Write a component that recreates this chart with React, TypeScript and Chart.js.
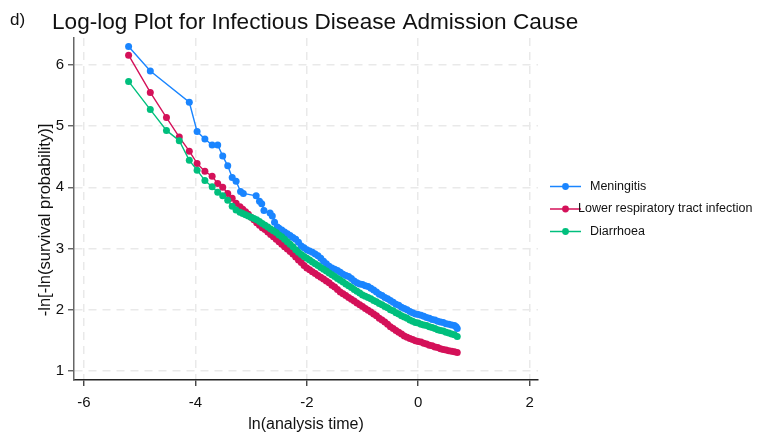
import React, { useEffect, useRef } from "react";
import { Chart, registerables } from "chart.js";

Chart.register(...registerables);

// ln(analysis time) and -ln[-ln(S(t))] for each admission cause
const meningitisX = [
  -5.2, -4.81, -4.11, -3.97, -3.83, -3.7, -3.6, -3.51, -3.42, -3.34, -3.27, -3.19, -3.14, -2.91, -2.85, -2.81, -2.77,
  -2.66, -2.62, -2.58, -2.53,
  -2.5, -2.45, -2.4, -2.35, -2.3, -2.25, -2.2, -2.15, -2.1, -2.05,
  -2, -1.95, -1.9, -1.85, -1.8, -1.75, -1.7, -1.65, -1.6, -1.55,
  -1.5, -1.45, -1.4, -1.35, -1.3, -1.25, -1.2, -1.15, -1.1, -1.05,
  -1, -0.95, -0.9, -0.85, -0.8, -0.75, -0.7, -0.65, -0.6, -0.55,
  -0.5, -0.45, -0.4, -0.35, -0.3, -0.25, -0.2, -0.15, -0.1, -0.05,
  0, 0.05, 0.1, 0.15, 0.2, 0.25, 0.3, 0.35, 0.4, 0.45,
  0.5, 0.55, 0.6, 0.65, 0.68, 0.7,
];
const meningitisY = [
  6.3, 5.9, 5.39, 4.91, 4.79, 4.69, 4.69, 4.51, 4.35, 4.16, 4.1, 3.93, 3.9, 3.86, 3.77, 3.73, 3.62,
  3.58, 3.53, 3.43, 3.35,
  3.33, 3.3, 3.27, 3.24, 3.21, 3.18, 3.15, 3.1, 3.04, 3.01,
  2.98, 2.96, 2.94, 2.91, 2.88, 2.84, 2.79, 2.75, 2.71, 2.68,
  2.66, 2.64, 2.61, 2.58, 2.56, 2.54, 2.51, 2.47, 2.44, 2.42,
  2.41, 2.39, 2.38, 2.35, 2.32, 2.29, 2.25, 2.23, 2.2, 2.18,
  2.15, 2.12, 2.09, 2.07, 2.04, 2.02, 2.0, 1.97, 1.95, 1.93,
  1.92, 1.91, 1.89, 1.87, 1.86, 1.84, 1.83, 1.81, 1.8, 1.79,
  1.77, 1.76, 1.75, 1.74, 1.72, 1.69,
];

const otherX = [
  -5.2, -4.81, -4.52, -4.29, -4.11, -3.97, -3.83, -3.7, -3.6, -3.51, -3.42, -3.34, -3.27,
  -3.2, -3.15, -3.1, -3.05, -3, -2.95, -2.9, -2.85, -2.8, -2.75,
  -2.7, -2.65, -2.6, -2.55, -2.5, -2.45, -2.4, -2.35, -2.3, -2.25,
  -2.2, -2.15, -2.1, -2.05, -2, -1.95, -1.9, -1.85, -1.8, -1.75,
  -1.7, -1.65, -1.6, -1.55, -1.5, -1.45, -1.4, -1.35, -1.3, -1.25,
  -1.2, -1.15, -1.1, -1.05, -1, -0.95, -0.9, -0.85, -0.8, -0.75,
  -0.7, -0.65, -0.6, -0.55, -0.5, -0.45, -0.4, -0.35, -0.3, -0.25,
  -0.2, -0.15, -0.1, -0.05, 0, 0.05, 0.1, 0.15, 0.2, 0.25,
  0.3, 0.35, 0.4, 0.45, 0.5, 0.55, 0.6, 0.65, 0.7,
];
const respiratoryY = [
  6.16, 5.55, 5.14, 4.82, 4.59, 4.39, 4.26, 4.18, 4.06, 4.0, 3.9, 3.82, 3.74,
  3.68, 3.64, 3.6, 3.56, 3.51, 3.47, 3.42, 3.38, 3.34, 3.31,
  3.27, 3.23, 3.19, 3.15, 3.11, 3.07, 3.03, 2.99, 2.95, 2.91,
  2.86, 2.81, 2.77, 2.72, 2.68, 2.65, 2.62, 2.59, 2.56, 2.53,
  2.5, 2.47, 2.44, 2.4, 2.37, 2.33, 2.29, 2.26, 2.23, 2.2,
  2.17, 2.14, 2.11, 2.08, 2.05, 2.02, 1.99, 1.96, 1.93, 1.9,
  1.86, 1.83, 1.8, 1.76, 1.72, 1.69, 1.66, 1.63, 1.6, 1.57,
  1.55, 1.53, 1.51, 1.49, 1.48, 1.47, 1.45, 1.44, 1.42, 1.41,
  1.39, 1.38, 1.36, 1.35, 1.34, 1.33, 1.32, 1.31, 1.3,
];
const diarrhoeaY = [
  5.73, 5.27, 4.93, 4.76, 4.44, 4.28, 4.11, 4.01, 3.92, 3.86, 3.79, 3.69, 3.63,
  3.59, 3.57, 3.55, 3.53, 3.51, 3.49, 3.47, 3.44, 3.41, 3.38,
  3.35, 3.32, 3.29, 3.26, 3.22, 3.19, 3.15, 3.11, 3.07, 3.03,
  2.98, 2.94, 2.9, 2.87, 2.84, 2.81, 2.78, 2.75, 2.72, 2.69,
  2.66, 2.63, 2.6, 2.57, 2.54, 2.51, 2.48, 2.45, 2.42, 2.39,
  2.36, 2.33, 2.3, 2.27, 2.24, 2.22, 2.2, 2.18, 2.15, 2.13,
  2.1, 2.08, 2.05, 2.03, 2.0, 1.98, 1.95, 1.93, 1.9, 1.88,
  1.86, 1.83, 1.81, 1.79, 1.78, 1.76, 1.75, 1.74, 1.72, 1.71,
  1.69, 1.67, 1.66, 1.65, 1.63, 1.62, 1.6, 1.59, 1.56,
];

const seriesNames = ["Meningitis", "Lower respiratory tract infection", "Diarrhoea"];
const seriesColors = ["#1A85FF", "#D41159", "#00BF7D"];

const xTicks = [-6, -4, -2, 0, 2];
const yTicks = [1, 2, 3, 4, 5, 6];

const FONT = "'Liberation Sans', Arial, Helvetica, sans-serif";

const pairs = (xs: number[], ys: number[]) => xs.map((x, i) => ({ x, y: ys[i] }));

const textPlugin = {
  id: "annotationText",
  afterDraw(chart: any) {
    const ctx = chart.ctx as CanvasRenderingContext2D;
    ctx.save();
    ctx.fillStyle = "#111";
    ctx.textAlign = "left";
    ctx.textBaseline = "alphabetic";
    ctx.font = `17px ${FONT}`;
    ctx.fillText("d)", 10, 25);
    ctx.font = `22.6px ${FONT}`;
    ctx.fillText("Log-log Plot for Infectious Disease Admission Cause", 52, 28.5);

    // axis titles
    ctx.font = `16px ${FONT}`;
    ctx.textAlign = "center";
    ctx.textBaseline = "middle";
    ctx.fillText("ln(analysis time)", 306, 425);
    ctx.save();
    ctx.font = `16.5px ${FONT}`;
    ctx.translate(45, 220);
    ctx.rotate(-Math.PI / 2);
    ctx.fillText("-ln[-ln(survival probability)]", 0, 0);
    ctx.restore();

    // legend
    const rows = [186.5, 209, 231.5];
    const textX = [590, 578, 590];
    ctx.font = `12.5px ${FONT}`;
    ctx.textAlign = "left";
    seriesNames.forEach((name, i) => {
      const y = rows[i];
      ctx.strokeStyle = seriesColors[i];
      ctx.lineWidth = 1.5;
      ctx.beginPath();
      ctx.moveTo(550, y);
      ctx.lineTo(581, y);
      ctx.stroke();
      ctx.fillStyle = seriesColors[i];
      ctx.beginPath();
      ctx.arc(565.5, y, 3.4, 0, Math.PI * 2);
      ctx.fill();
      ctx.fillStyle = "#111";
      ctx.fillText(name, textX[i], y);
    });
    ctx.restore();
  },
};

export default function App() {
  const canvasRef = useRef<HTMLCanvasElement | null>(null);

  useEffect(() => {
    const canvas = canvasRef.current;
    if (!canvas) return;
    const makeSet = (label: string, xs: number[], ys: number[], color: string, order: number) => ({
      label,
      data: pairs(xs, ys),
      borderColor: color,
      backgroundColor: color,
      borderWidth: 1.4,
      pointRadius: 3.5,
      pointBorderWidth: 0,
      pointBackgroundColor: color,
      pointHoverRadius: 3.5,
      showLine: true,
      tension: 0,
      order,
    });
    const chart = new Chart(canvas, {
      type: "scatter",
      data: {
        datasets: [
          makeSet(seriesNames[0], meningitisX, meningitisY, seriesColors[0], 3),
          makeSet(seriesNames[1], otherX, respiratoryY, seriesColors[1], 2),
          makeSet(seriesNames[2], otherX, diarrhoeaY, seriesColors[2], 1),
        ],
      },
      options: {
        responsive: false,
        animation: false,
        devicePixelRatio: 1,
        layout: { padding: { left: 0, top: 38, right: 232, bottom: 0 } },
        plugins: {
          legend: { display: false },
          title: { display: false },
          tooltip: { enabled: false },
        },
        scales: {
          x: {
            type: "linear",
            min: -6.18,
            max: 2.15,
            afterFit: (s: any) => {
              s.height = 53;
            },
            afterBuildTicks: (s: any) => {
              s.ticks = xTicks.map((v) => ({ value: v }));
            },
            ticks: {
              color: "#111",
              font: { family: FONT, size: 15 },
              padding: 8,
              maxRotation: 0,
              callback: (v: any) => String(v),
            },
            grid: {
              color: "#e9e9e9",
              lineWidth: 1.5,
              tickLength: 6,
              tickColor: "#333",
              tickWidth: 1.3,
            },
            border: { display: true, color: "#222", width: 1.5, dash: [8, 6] },
          },
          y: {
            type: "linear",
            min: 0.85,
            max: 6.44,
            afterFit: (s: any) => {
              s.width = 74;
            },
            afterBuildTicks: (s: any) => {
              s.ticks = yTicks.map((v) => ({ value: v }));
            },
            ticks: {
              color: "#111",
              font: { family: FONT, size: 15 },
              padding: 4,
              callback: (v: any) => String(v),
            },
            grid: {
              color: "#e9e9e9",
              lineWidth: 1.5,
              tickLength: 6,
              tickColor: "#555",
              tickWidth: 1.3,
            },
            border: { display: true, color: "#666", width: 1.5, dash: [8, 6] },
          },
        },
      },
      plugins: [textPlugin],
    } as any);
    return () => chart.destroy();
  }, []);

  return (
    <div style={{ position: "fixed", left: 0, top: 0, width: 770, height: 433, background: "#fff" }}>
      <canvas ref={canvasRef} width={770} height={433} style={{ width: 770, height: 433, display: "block" }} />
    </div>
  );
}
